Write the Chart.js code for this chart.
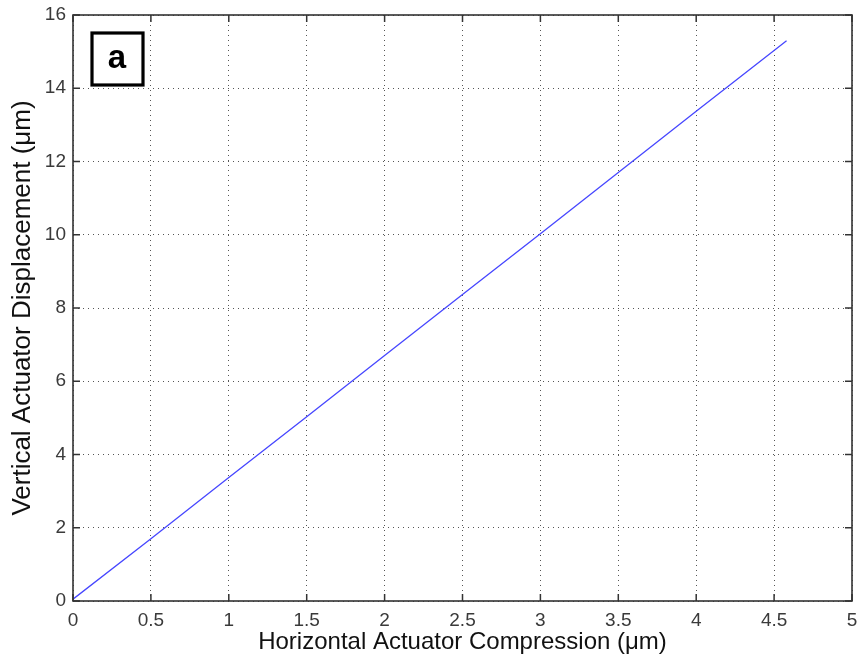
<!DOCTYPE html>
<html>
<head>
<meta charset="utf-8">
<script src="https://cdn.jsdelivr.net/npm/chart.js@4"></script>
<style>
  html, body { margin: 0; padding: 0; background: #fff; }
  #wrap { width: 860px; height: 665px; }
</style>
</head>
<body>
<div id="wrap"><canvas id="chart"></canvas></div>
<script>
// values
const compression = [0, 0.5, 1, 1.5, 2, 2.5, 3, 3.5, 4, 4.58];
const displacement = [0.05, 1.7, 3.37, 5.03, 6.7, 8.37, 10.03, 11.7, 13.37, 15.3];
const xTicks = [0, 0.5, 1, 1.5, 2, 2.5, 3, 3.5, 4, 4.5, 5];
const yTicks = [0, 2, 4, 6, 8, 10, 12, 14, 16];
const panelLabel = 'a';

const frame = {
  id: 'frame',
  afterDraw(c) {
    const { ctx, chartArea: a, scales: { x, y } } = c;
    ctx.save();
    ctx.strokeStyle = '#333';
    ctx.lineWidth = 1.5;
    ctx.beginPath();
    xTicks.forEach(v => {
      const px = x.getPixelForValue(v);
      ctx.moveTo(px, a.bottom); ctx.lineTo(px, a.bottom - 7);
      ctx.moveTo(px, a.top); ctx.lineTo(px, a.top + 7);
    });
    yTicks.forEach(v => {
      const py = y.getPixelForValue(v);
      ctx.moveTo(a.left, py); ctx.lineTo(a.left + 7, py);
      ctx.moveTo(a.right, py); ctx.lineTo(a.right - 7, py);
    });
    ctx.stroke();
    ctx.lineWidth = 1.6;
    ctx.strokeRect(a.left, a.top, a.right - a.left, a.bottom - a.top);
    // panel label box
    ctx.fillStyle = '#fff';
    ctx.fillRect(a.left + 19, a.top + 18, 51, 52);
    ctx.strokeStyle = '#000';
    ctx.lineWidth = 3.2;
    ctx.strokeRect(a.left + 19, a.top + 18, 51, 52);
    ctx.fillStyle = '#000';
    ctx.font = 'bold 33px "Liberation Sans", Arial';
    ctx.textAlign = 'center';
    ctx.textBaseline = 'middle';
    ctx.fillText(panelLabel, a.left + 44, a.top + 44);
    ctx.restore();
  }
};

new Chart(document.getElementById('chart'), {
  type: 'line',
  data: {
    datasets: [{
      data: compression.map((v, i) => ({ x: v, y: displacement[i] })),
      borderColor: '#4646ff',
      borderWidth: 1.3,
      pointRadius: 0,
      fill: false,
      tension: 0
    }]
  },
  options: {
    responsive: true,
    maintainAspectRatio: false,
    animation: false,
    layout: { padding: { left: 0, right: 8, top: 15, bottom: 0 } },
    plugins: { legend: { display: false }, tooltip: { enabled: false } },
    scales: {
      x: {
        type: 'linear',
        min: 0, max: 5,
        afterBuildTicks: s => { s.ticks = xTicks.map(v => ({ value: v })); },
        afterFit: s => { s.height = 64; s.paddingLeft = 0; s.paddingRight = 0; },
        grid: { color: '#555', lineWidth: 1, drawTicks: false },
        border: { display: false, dash: [1, 4] },
        ticks: {
          padding: 8, color: '#3a3a3a',
          font: { family: '"Liberation Sans", Arial', size: 19 },
          callback: v => String(v)
        },
        title: {
          display: true,
          text: 'Horizontal Actuator Compression (\u03bcm)',
          color: '#111',
          padding: 8,
          font: { family: '"Liberation Sans", Arial', size: 24 }
        }
      },
      y: {
        min: 0, max: 16,
        afterBuildTicks: s => { s.ticks = yTicks.map(v => ({ value: v })); },
        afterFit: s => { s.width = 73; s.paddingTop = 0; s.paddingBottom = 0; },
        grid: { color: '#555', lineWidth: 1, drawTicks: false },
        border: { display: false, dash: [1, 4] },
        ticks: {
          padding: 7, color: '#3a3a3a',
          font: { family: '"Liberation Sans", Arial', size: 19 },
          callback: v => String(v)
        },
        title: {
          display: true,
          text: 'Vertical Actuator Displacement (\u03bcm)',
          color: '#111',
          padding: 7,
          font: { family: '"Liberation Sans", Arial', size: 26 }
        }
      }
    }
  },
  plugins: [frame]
});
</script>
</body>
</html>
